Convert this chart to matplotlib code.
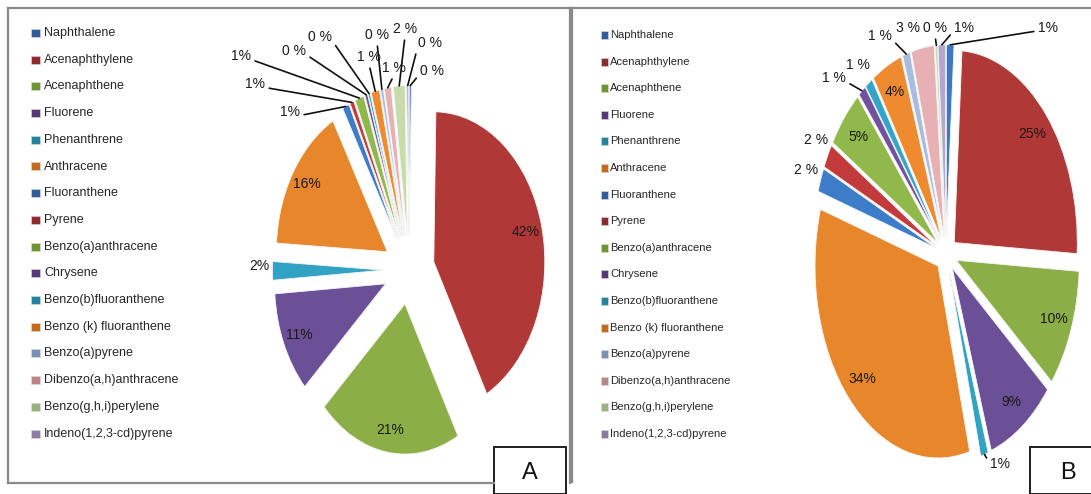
import numpy as np
import matplotlib.pyplot as plt
from matplotlib.patches import Rectangle
from matplotlib.lines import Line2D

W, H = 1091, 494

compounds = ['Naphthalene', 'Acenaphthylene', 'Acenaphthene', 'Fluorene',
             'Phenanthrene', 'Anthracene', 'Fluoranthene', 'Pyrene',
             'Benzo(a)anthracene', 'Chrysene', 'Benzo(b)fluoranthene',
             'Benzo (k) fluoranthene', 'Benzo(a)pyrene',
             'Dibenzo(a,h)anthracene', 'Benzo(g,h,i)perylene',
             'Indeno(1,2,3-cd)pyrene']

# percentage share of each PAH, site A and site B
share_a = [0.3, 42, 21, 11, 2, 16, 1, 0.6, 1.3, 0.4, 0.3, 1.2, 0.4, 1, 1.7, 0.3]
share_b = [1, 25, 10, 9, 1, 34, 2, 2, 5, 1, 1, 4, 1, 3, 0.3, 1]

colors = ['#3d78c2', '#b03836', '#8bae47', '#6c5097', '#31a2c3', '#e8862c',
          '#3d7cc9', '#c23b3a', '#90b84a', '#7152a0', '#33a6c8', '#ee8b2e',
          '#a7bde0', '#e7b1b3', '#c8dcaa', '#b5a6cd']
legend_colors = ['#2e5e9e', '#8e2a2a', '#6f9434', '#55397d', '#24839e', '#c46a1e',
                 '#2e5e9e', '#8e2a2a', '#6f9434', '#55397d', '#24839e', '#c46a1e',
                 '#7890b4', '#b98586', '#9cb17f', '#8a7ba3']

# which slices carry their label inside the wedge
inside_a = [1, 2, 3, 5]
inside_b = [1, 2, 3, 5, 8, 11]

# outside labels: (slice index, text x, text y in px from top-left, leader, spaced)
outer_a = [(0, 432, 71, 'right', True), (4, 259, 266, None, False),
           (6, 290, 112, 'left', False), (7, 255, 84, 'left', False),
           (8, 241, 56, 'left', False), (9, 294, 51, 'left', True),
           (10, 320, 37, 'left', True), (11, 369, 57, 'down', True),
           (12, 377, 35, 'down', True), (13, 394, 68, 'down', True),
           (14, 405, 29, 'down', True), (15, 430, 43, 'right', True)]
outer_b = [(0, 1048, 28, 'right', False), (4, 1000, 464, 'up', False),
           (6, 806, 170, None, True), (7, 816, 140, None, True),
           (9, 834, 78, 'left', True), (10, 858, 65, None, True),
           (12, 880, 36, 'left', True), (13, 908, 28, None, True),
           (14, 935, 28, 'down', True), (15, 964, 28, 'right', False)]

sans = ['Liberation Sans', 'DejaVu Sans']


def fig_frac(x, y):
    return x / W, 1 - y / H


def draw_pie(ax, share, explode, inside, outer):
    wedges, _ = ax.pie(share, colors=colors, startangle=90, counterclock=False,
                       explode=[explode] * len(share), radius=1,
                       wedgeprops=dict(linewidth=0.6, edgecolor='#f4f4f4'))
    ax.set_aspect('auto')
    for i in inside:
        w = wedges[i]
        t = np.deg2rad((w.theta1 + w.theta2) / 2)
        cx, cy = w.center
        ax.text(cx + 0.85 * w.r * np.cos(t), cy + 0.85 * w.r * np.sin(t),
                '{:.0f}%'.format(share[i]), ha='center', va='center',
                fontsize=10, color='#1a1a1a', family=sans)
    for i, tx, ty, leader, spaced in outer:
        w = wedges[i]
        t = np.deg2rad((w.theta1 + w.theta2) / 2)
        cx, cy = w.center
        tip = (cx + w.r * np.cos(t), cy + w.r * np.sin(t))
        txt = ('{:.0f} %' if spaced else '{:.0f}%').format(share[i])
        if leader is None:
            ax.annotate(txt, xy=tip, xytext=fig_frac(tx, ty),
                        textcoords='figure fraction', ha='center', va='center',
                        fontsize=10, color='#1a1a1a', family=sans)
            continue
        rel = {'left': (1.0, 0.25), 'right': (0.0, 0.3),
               'down': (0.5, 0.0), 'up': (0.0, 0.5)}[leader]
        ax.annotate(txt, xy=tip, xytext=fig_frac(tx, ty),
                    textcoords='figure fraction', ha='center', va='center',
                    fontsize=10, color='#1a1a1a', family=sans,
                    arrowprops=dict(arrowstyle='-', color='#111111', lw=1.2,
                                    shrinkA=1, shrinkB=0, relpos=rel))
    return wedges


fig = plt.figure(figsize=(W / 100, H / 100), dpi=100)

# pie A: centre (409, 270) px, 111 px per unit across, 150 px per unit down
ax_a = fig.add_axes([(409 - 222) / W, (224 - 240) / H, 444 / W, 480 / H])
draw_pie(ax_a, share_a, 0.23, inside_a, outer_a)
ax_a.set_xlim(-2, 2)
ax_a.set_ylim(-1.6, 1.6)
ax_a.axis('off')

# pie B: centre (946, 254) px, 123 px per unit across, 192 px per unit down
ax_b = fig.add_axes([(946 - 160) / W, (240 - 250) / H, 320 / W, 500 / H])
draw_pie(ax_b, share_b, 0.09, inside_b, outer_b)
ax_b.set_xlim(-160 / 123, 160 / 123)
ax_b.set_ylim(-250 / 192, 250 / 192)
ax_b.axis('off')

# legends
for i, name in enumerate(compounds):
    y = 33 + i * 26.7
    x0, y0 = fig_frac(31, y + 4)
    fig.patches.append(Rectangle((x0, y0), 9 / W, 8 / H, transform=fig.transFigure,
                                 facecolor=legend_colors[i], edgecolor='#dddddd', lw=0.4))
    fig.text(*fig_frac(44, y), name, fontsize=9, va='center', ha='left',
             color='#262626', family=sans)

    y = 35 + i * 26.6
    x0, y0 = fig_frac(601, y + 4)
    fig.patches.append(Rectangle((x0, y0), 7 / W, 8 / H, transform=fig.transFigure,
                                 facecolor=legend_colors[i], edgecolor='#dddddd', lw=0.4))
    fig.text(*fig_frac(610, y), name, fontsize=8, va='center', ha='left',
             color='#262626', family=sans)

# panel frames
frame = dict(color='#8a8a8a', lw=1.6, transform=fig.transFigure)
for (xa, ya), (xb, yb) in [((8, 8), (570, 8)), ((8, 8), (8, 483)),
                           ((8, 483), (494, 483)), ((570, 8), (570, 483)),
                           ((571, 8), (1091, 8)), ((572, 8), (572, 482))]:
    p, q = fig_frac(xa, ya), fig_frac(xb, yb)
    fig.lines.append(Line2D([p[0], q[0]], [p[1], q[1]], **frame))

# panel tags
for letter, bx, bw, lx in [('A', 494, 72, 530), ('B', 1030, 70, 1068)]:
    x0, y0 = fig_frac(bx, 494)
    fig.patches.append(Rectangle((x0, y0), bw / W, 47 / H, transform=fig.transFigure,
                                 facecolor='white', edgecolor='#1e1e1e', lw=1.4))
    fig.text(*fig_frac(lx, 473), letter, fontsize=17, ha='center', va='center',
             color='#111111', family=sans)

fig.savefig('out.png', dpi=100)
